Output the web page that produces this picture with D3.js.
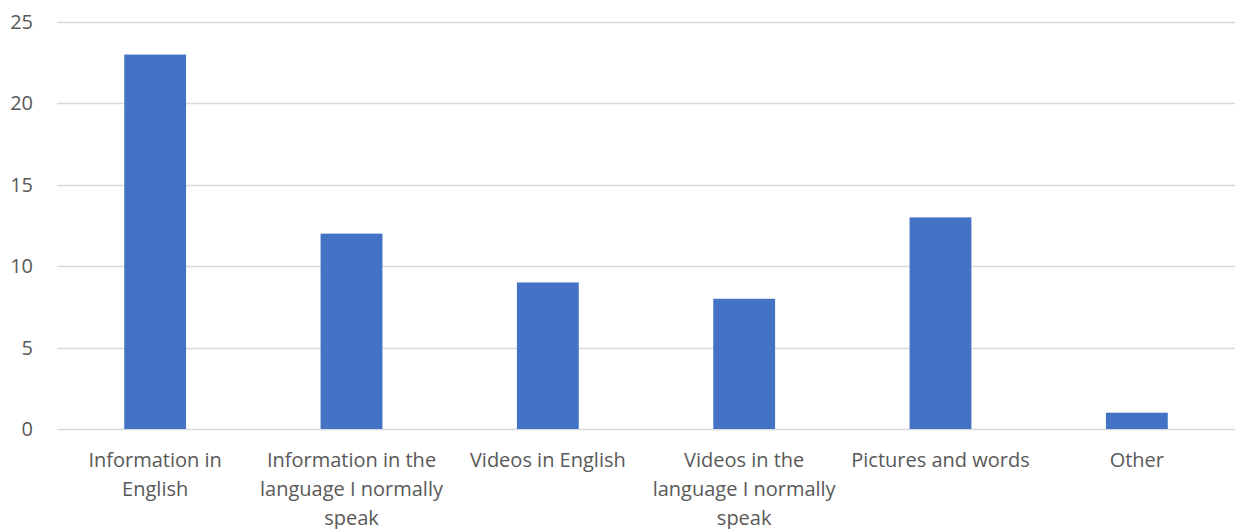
<!DOCTYPE html>
<html>
<head>
<meta charset="utf-8">
<script src="https://cdn.jsdelivr.net/npm/d3@7"></script>
<style>
  html, body { margin: 0; padding: 0; background: #ffffff; }
  svg { display: block; }
  text { font-family: "Open Sans", "Noto Sans", sans-serif; fill: #595959; }
</style>
</head>
<body>
<svg id="chart" width="1235" height="529"></svg>
<script>
// Responses per preferred information format
const categories = [
  "Information in English",
  "Information in the language I normally speak",
  "Videos in English",
  "Videos in the language I normally speak",
  "Pictures and words",
  "Other"
];
const counts = [23, 12, 9, 8, 13, 1];
const yTicks = [0, 5, 10, 15, 20, 25];

const W = 1235, H = 529;
const margin = { top: 22, right: 0, bottom: 100, left: 57 };
const svg = d3.select("#chart");

const x = d3.scaleBand()
  .domain(categories)
  .range([margin.left, W - margin.right])
  .paddingInner(0.685)
  .paddingOuter(0.3425);

const y = d3.scaleLinear()
  .domain([0, 25])
  .range([H - margin.bottom, margin.top]);

// Horizontal gridlines
svg.append("g")
  .selectAll("line")
  .data(yTicks)
  .join("line")
  .attr("x1", margin.left)
  .attr("x2", W - margin.right)
  .attr("y1", d => Math.round(y(d)) + 0.5)
  .attr("y2", d => Math.round(y(d)) + 0.5)
  .attr("stroke", "#d9d9d9")
  .attr("stroke-width", 1.3);

// Y axis labels
const yAxis = d3.axisLeft(y).tickValues(yTicks).tickSize(0).tickPadding(24);
svg.append("g")
  .attr("transform", `translate(${margin.left},0)`)
  .call(yAxis)
  .call(g => g.select(".domain").remove())
  .call(g => g.selectAll("text")
    .style("font-size", "20px")
    .attr("fill", "#595959"));

// Bars
svg.append("g")
  .selectAll("rect")
  .data(counts)
  .join("rect")
  .attr("x", (d, i) => x(categories[i]))
  .attr("width", x.bandwidth())
  .attr("y", d => y(d))
  .attr("height", d => y(0) - y(d))
  .attr("fill", "#4472c4");

// Category labels, wrapped to the category width
const maxLine = 194;
const labels = svg.append("g")
  .selectAll("text")
  .data(categories)
  .join("text")
  .attr("text-anchor", "middle")
  .style("font-size", "20px")
  .attr("x", d => x(d) + x.bandwidth() / 2)
  .attr("y", y(0) + 38);

labels.each(function(label) {
  const el = d3.select(this);
  const words = label.split(" ");
  let line = [];
  let tspan = el.append("tspan").attr("x", el.attr("x")).attr("dy", 0);
  for (const w of words) {
    line.push(w);
    tspan.text(line.join(" "));
    if (tspan.node().getComputedTextLength() > maxLine && line.length > 1) {
      line.pop();
      tspan.text(line.join(" "));
      line = [w];
      tspan = el.append("tspan").attr("x", el.attr("x")).attr("dy", 29).text(w);
    }
  }
});
</script>
</body>
</html>
